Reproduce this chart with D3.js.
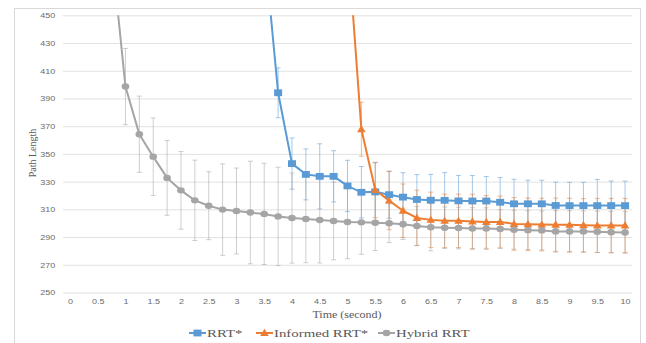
<!DOCTYPE html>
<html>
<head>
<meta charset="utf-8">
<script src="https://cdn.jsdelivr.net/npm/d3@7/dist/d3.min.js"></script>
<style>
  body { margin: 0; background: #fff; }
  svg { display: block; }
</style>
</head>
<body>
<div id="chart"></div>
<script>
// categories (seconds), one every 0.25 s
const times = [0, 0.25, 0.5, 0.75, 1, 1.25, 1.5, 1.75, 2, 2.25, 2.5, 2.75, 3, 3.25, 3.5, 3.75,
  4, 4.25, 4.5, 4.75, 5, 5.25, 5.5, 5.75, 6, 6.25, 6.5, 6.75, 7, 7.25, 7.5, 7.75,
  8, 8.25, 8.5, 8.75, 9, 9.25, 9.5, 9.75, 10];
const xTickValues = [0, 0.5, 1, 1.5, 2, 2.5, 3, 3.5, 4, 4.5, 5, 5.5, 6, 6.5, 7, 7.5, 8, 8.5, 9, 9.5, 10];
const yTickValues = [250, 270, 290, 310, 330, 350, 370, 390, 410, 430, 450];

const seriesNames = ["RRT*", "Informed RRT*", "Hybrid RRT"];
const seriesColors = ["#5B9BD5", "#ED7D31", "#A5A5A5"];

// path length values (null = no point)
const rrtValues = [null, null, null, null, null, null, null, null, null, null, null, null, null, null,
  500, 394.1, 343, 335.2, 333.8, 333.8, 326.9, 322.3, 322.6, 320.6, 318.8, 317.1, 316.6, 316.5,
  316.1, 316, 316, 315.1, 314, 314, 314, 312.8, 312.7, 312.7, 312.7, 312.7, 312.7];
const rrtErrors = [null, null, null, null, null, null, null, null, null, null, null, null, null, null,
  18, 18, 18.5, 18.4, 23.5, 18.5, 18.5, 18.6, 21, 17, 17.6, 18, 18.6, 20,
  18.4, 18.4, 17.7, 17.8, 17.7, 17, 17, 16.8, 16.8, 16.8, 18.9, 17.7, 17.7];

const informedValues = [null, null, null, null, null, null, null, null, null, null, null, null, null, null,
  null, null, null, null, null, null, 505, 367.8, 324, 316.3, 309, 303.8, 302.4, 301.7,
  301.7, 301.3, 300.9, 300.9, 299.5, 299.2, 299, 298.9, 298.8, 298.5, 298.4, 298.4, 298.4];
const informedErrors = [null, null, null, null, null, null, null, null, null, null, null, null, null, null,
  null, null, null, null, null, null, 20, 19.5, 20, 21, 19.3, 20, 20, 19.3,
  19.3, 19.7, 19, 18.7, 19, 19, 19, 19.2, 19.2, 19.2, 19.5, 19.5, 19.5];

const hybridValues = [null, null, null, 497, 398.6, 364.2, 348, 332.7, 323.7, 316.5, 312.6, 309.8,
  308.8, 307.7, 306.7, 304.9, 303.7, 303, 302.3, 301.6, 300.9, 300.6, 300.3, 300, 299.2, 298, 297.1,
  296.7, 296.5, 296.2, 296.1, 295.8, 295.3, 295, 294.8, 294.1, 294, 294, 293.8, 293.5, 293.3];
const hybridErrors = [null, null, null, 28, 27.5, 27.5, 28, 27, 28, 29, 24.5, 33,
  31, 37, 36.5, 35.5, 32.5, 31.5, 31, 28, 26.5, 23, 20, 14, 11, 14, 17,
  15, 15, 15, 15, 14, 14, 14, 14, 15, 15, 15, 15, 15, 15];

const W = 646, H = 343;
const plot = { left: 63, right: 632, top: 15.3, bottom: 292.5 };

const svg = d3.select("#chart").append("svg")
  .attr("width", W)
  .attr("height", H);

// chart border
svg.append("rect")
  .attr("x", 14.5).attr("y", 8.5)
  .attr("width", 626).attr("height", 350)
  .attr("fill", "none")
  .attr("stroke", "#d9d9d9");

const x = d3.scalePoint()
  .domain(times)
  .range([plot.left, plot.right])
  .padding(0.5);

const y = d3.scaleLinear()
  .domain([250, 450])
  .range([plot.bottom, plot.top]);

// y axis with gridlines
const yAxis = svg.append("g")
  .attr("transform", `translate(${plot.left},0)`)
  .call(d3.axisLeft(y).tickValues(yTickValues).tickSize(-(plot.right - plot.left)).tickPadding(6.5));
yAxis.select(".domain").remove();
yAxis.selectAll(".tick line").attr("stroke", "#e2e2e2");
yAxis.selectAll(".tick text")
  .attr("fill", "#6b6b6b")
  .style("font-family", "'Liberation Sans', Arial, sans-serif")
  .style("font-size", "7.5px")
  .attr("transform", "scale(1.2,1)");

// x axis labels
const xAxis = svg.append("g")
  .attr("transform", `translate(0,${plot.bottom})`)
  .call(d3.axisBottom(x).tickValues(xTickValues).tickSize(0).tickPadding(6.5).tickFormat(d => String(d)));
xAxis.select(".domain").remove();
xAxis.selectAll(".tick text")
  .attr("fill", "#6b6b6b")
  .style("font-family", "'Liberation Sans', Arial, sans-serif")
  .style("font-size", "7.5px")
  .attr("transform", "scale(1.2,1)");

// axis titles
svg.append("text")
  .attr("transform", "translate(347,317.5) scale(1.2,1)")
  .attr("text-anchor", "middle")
  .style("font-family", "'Liberation Serif', 'Times New Roman', serif")
  .style("font-size", "10px")
  .attr("fill", "#595959")
  .text("Time (second)");

svg.append("text")
  .attr("transform", "translate(35.5,153) rotate(-90)")
  .attr("text-anchor", "middle")
  .style("font-family", "'Liberation Serif', 'Times New Roman', serif")
  .style("font-size", "10px")
  .attr("fill", "#595959")
  .text("Path Length");

// clip to plot area
svg.append("defs").append("clipPath")
  .attr("id", "clip")
  .append("rect")
  .attr("x", plot.left).attr("y", plot.top)
  .attr("width", plot.right - plot.left)
  .attr("height", plot.bottom - plot.top);

const series = [
  { name: seriesNames[0], color: seriesColors[0], marker: "square", values: rrtValues, errors: rrtErrors },
  { name: seriesNames[1], color: seriesColors[1], marker: "triangle", values: informedValues, errors: informedErrors },
  { name: seriesNames[2], color: seriesColors[2], marker: "circle", values: hybridValues, errors: hybridErrors }
];
series.forEach(s => {
  s.points = times.map((t, i) => ({ t: t, v: s.values[i], e: s.errors[i] })).filter(d => d.v != null);
});

const g = svg.append("g").attr("clip-path", "url(#clip)");

// error bars
series.forEach(s => {
  const eb = g.append("g")
    .attr("stroke", s.color)
    .attr("stroke-opacity", 0.55)
    .attr("stroke-width", 1);
  s.points.forEach(d => {
    const cx = x(d.t);
    const y1 = y(d.v + d.e), y2 = y(d.v - d.e);
    eb.append("line").attr("x1", cx).attr("x2", cx).attr("y1", y1).attr("y2", y2);
    eb.append("line").attr("x1", cx - 2.5).attr("x2", cx + 2.5).attr("y1", y1).attr("y2", y1);
    eb.append("line").attr("x1", cx - 2.5).attr("x2", cx + 2.5).attr("y1", y2).attr("y2", y2);
  });
});

// lines
const line = d3.line().x(d => x(d.t)).y(d => y(d.v));
series.forEach(s => {
  g.append("path")
    .datum(s.points)
    .attr("fill", "none")
    .attr("stroke", s.color)
    .attr("stroke-width", 2)
    .attr("d", line);
});

function drawMarker(parent, type, cx, cy, color) {
  if (type === "square") {
    parent.append("rect")
      .attr("x", cx - 4).attr("y", cy - 3.4)
      .attr("width", 8).attr("height", 6.8)
      .attr("fill", color);
  } else if (type === "triangle") {
    parent.append("path")
      .attr("d", `M${cx},${cy - 4.2}L${cx + 4.3},${cy + 3}L${cx - 4.3},${cy + 3}Z`)
      .attr("fill", color);
  } else {
    parent.append("ellipse")
      .attr("cx", cx).attr("cy", cy)
      .attr("rx", 3.8).attr("ry", 3.2)
      .attr("fill", color);
  }
}

// markers
series.forEach(s => {
  const mg = g.append("g");
  s.points.forEach(d => drawMarker(mg, s.marker, x(d.t), y(d.v), s.color));
});

// legend
const legendX = [189, 256, 378];
const legend = svg.append("g");
series.forEach((s, i) => {
  const lx = legendX[i], ly = 333;
  legend.append("line")
    .attr("x1", lx).attr("x2", lx + 17)
    .attr("y1", ly).attr("y2", ly)
    .attr("stroke", s.color)
    .attr("stroke-width", 2);
  drawMarker(legend, s.marker, lx + 8.5, ly, s.color);
  legend.append("text")
    .attr("transform", `translate(${lx + 18},${ly + 3.8}) scale(1.35,1)`)
    .style("font-family", "'Liberation Serif', 'Times New Roman', serif")
    .style("font-size", "11px")
    .attr("fill", "#595959")
    .text(s.name);
});
</script>
</body>
</html>
